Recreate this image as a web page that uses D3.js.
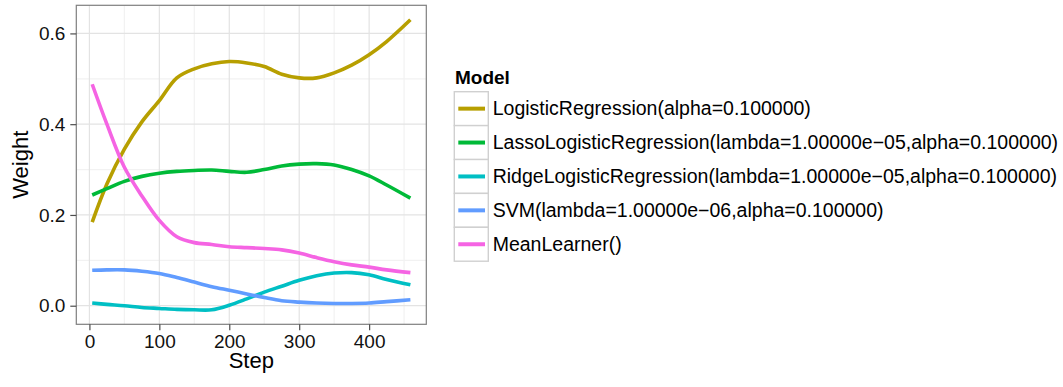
<!DOCTYPE html>
<html><head><meta charset="utf-8">
<script src="https://cdn.jsdelivr.net/npm/d3@7"></script>
<style>body{margin:0;background:#fff}svg{display:block;font-family:"Liberation Sans",Arial,sans-serif}</style>
</head><body>
<svg id="c" width="1063" height="387"></svg>
<script>
const steps = [4, 25, 50, 75, 100, 125, 150, 175, 200, 225, 250, 275, 300, 325, 350, 375, 400, 425, 459];
const logistic = [0.184, 0.268, 0.345, 0.405, 0.452, 0.502, 0.522, 0.533, 0.538, 0.535, 0.527, 0.510, 0.502, 0.502, 0.513, 0.530, 0.553, 0.582, 0.630];
const lasso = [0.244, 0.258, 0.274, 0.285, 0.292, 0.296, 0.298, 0.299, 0.296, 0.294, 0.300, 0.308, 0.312, 0.313, 0.310, 0.300, 0.286, 0.266, 0.237];
const ridge = [0.006, 0.003, 0.000, -0.004, -0.006, -0.008, -0.009, -0.009, 0.001, 0.015, 0.030, 0.043, 0.056, 0.066, 0.072, 0.073, 0.068, 0.058, 0.046];
const svm = [0.078, 0.079, 0.079, 0.076, 0.071, 0.062, 0.052, 0.042, 0.034, 0.026, 0.018, 0.011, 0.008, 0.006, 0.005, 0.005, 0.006, 0.009, 0.013];
const meanLearner = [0.488, 0.400, 0.305, 0.242, 0.188, 0.152, 0.139, 0.135, 0.130, 0.128, 0.126, 0.123, 0.116, 0.106, 0.097, 0.090, 0.085, 0.079, 0.073];
const modelNames = ["LogisticRegression(alpha=0.100000)", "LassoLogisticRegression(lambda=1.00000e\u221205,alpha=0.100000)", "RidgeLogisticRegression(lambda=1.00000e\u221205,alpha=0.100000)", "SVM(lambda=1.00000e\u221206,alpha=0.100000)", "MeanLearner()"];
const modelColors = ["#B79F00", "#00BA38", "#00BFC4", "#619CFF", "#F564E3"];
const xTicks = [0, 100, 200, 300, 400];
const xMinor = [50, 150, 250, 350, 450];
const yTicks = [0.0, 0.2, 0.4, 0.6];
const yMinor = [0.1, 0.3, 0.5];

const seriesVals = [logistic, lasso, ridge, svm, meanLearner];
const series = seriesVals.map((v, i) => ({name: modelNames[i], color: modelColors[i], pts: steps.map((s, j) => [s, v[j]])}));

const svg = d3.select("#c");
const P = {l: 76.3, r: 426.3, t: 5.3, b: 324.3};
function expand(ext){const d=(ext[1]-ext[0])*0.05;return [ext[0]-d, ext[1]+d];}
const allY = seriesVals.flat();
const x = d3.scaleLinear().domain(expand(d3.extent(steps))).range([P.l, P.r]);
const y = d3.scaleLinear().domain(expand(d3.extent(allY))).range([P.b, P.t]);

const g = svg.append("g");
g.append("rect").attr("x", P.l).attr("y", P.t).attr("width", P.r-P.l).attr("height", P.b-P.t).attr("fill", "#fff");
// minor grid
g.selectAll(".xm").data(xMinor).join("line").attr("x1", d=>x(d)).attr("x2", d=>x(d)).attr("y1", P.t).attr("y2", P.b).attr("stroke", "#f2f2f2").attr("stroke-width", 1.2);
g.selectAll(".ym").data(yMinor).join("line").attr("y1", d=>y(d)).attr("y2", d=>y(d)).attr("x1", P.l).attr("x2", P.r).attr("stroke", "#f2f2f2").attr("stroke-width", 1.2);
// major grid
g.selectAll(".xg").data(xTicks).join("line").attr("x1", d=>x(d)).attr("x2", d=>x(d)).attr("y1", P.t).attr("y2", P.b).attr("stroke", "#e3e3e3").attr("stroke-width", 1.2);
g.selectAll(".yg").data(yTicks).join("line").attr("y1", d=>y(d)).attr("y2", d=>y(d)).attr("x1", P.l).attr("x2", P.r).attr("stroke", "#e3e3e3").attr("stroke-width", 1.2);

// lines
const line = d3.line().x(d=>x(d[0])).y(d=>y(d[1])).curve(d3.curveCatmullRom.alpha(0.5));
g.selectAll(".series").data(series).join("path").attr("d", d=>line(d.pts)).attr("fill", "none").attr("stroke", d=>d.color).attr("stroke-width", 3.6);

// border
g.append("rect").attr("x", P.l).attr("y", P.t).attr("width", P.r-P.l).attr("height", P.b-P.t).attr("fill", "none").attr("stroke", "#7f7f7f").attr("stroke-width", 1.2);

// axes
const xAxis = d3.axisBottom(x).tickValues(xTicks).tickSize(6).tickPadding(4).tickFormat(d3.format("d"));
const yAxis = d3.axisLeft(y).tickValues(yTicks).tickSize(6).tickPadding(5).tickFormat(d3.format(".1f"));
const ax = svg.append("g").attr("transform", `translate(0,${P.b})`).call(xAxis);
const ay = svg.append("g").attr("transform", `translate(${P.l},0)`).call(yAxis);
[ax, ay].forEach(a => {
  a.select(".domain").remove();
  a.selectAll(".tick line").attr("stroke", "#4d4d4d").attr("stroke-width", 1.2);
  a.selectAll(".tick text").attr("fill", "#111").attr("font-size", 19).attr("font-family", "Liberation Sans, Arial, sans-serif");
});
svg.append("text").attr("x", (P.l+P.r)/2).attr("y", 368).attr("text-anchor", "middle").attr("font-size", 22).attr("fill", "#000").text("Step");
svg.append("text").attr("transform", `translate(28,${(P.t+P.b)/2}) rotate(-90)`).attr("text-anchor", "middle").attr("font-size", 22).attr("fill", "#000").text("Weight");

// legend
const L = svg.append("g");
L.append("text").attr("x", 455).attr("y", 84).attr("font-size", 19).attr("font-weight", "bold").attr("fill", "#000").text("Model");
const keyTop = 91.7, keyH = 33.9;
const rows = L.selectAll(".row").data(series).join("g").attr("transform", (d,i)=>`translate(0,${keyTop + i*keyH})`);
rows.append("rect").attr("x", 454.3).attr("y", 0).attr("width", 34).attr("height", keyH).attr("fill", "#fff").attr("stroke", "#d0d0d0").attr("stroke-width", 1.4);
rows.append("line").attr("x1", 458.3).attr("x2", 485).attr("y1", keyH/2).attr("y2", keyH/2).attr("stroke", d=>d.color).attr("stroke-width", 4);
rows.append("text").attr("x", 492.7).attr("y", keyH/2).attr("dy", "0.35em").attr("font-size", 19.5).attr("fill", "#000").text(d=>d.name);
</script>
</body></html>
